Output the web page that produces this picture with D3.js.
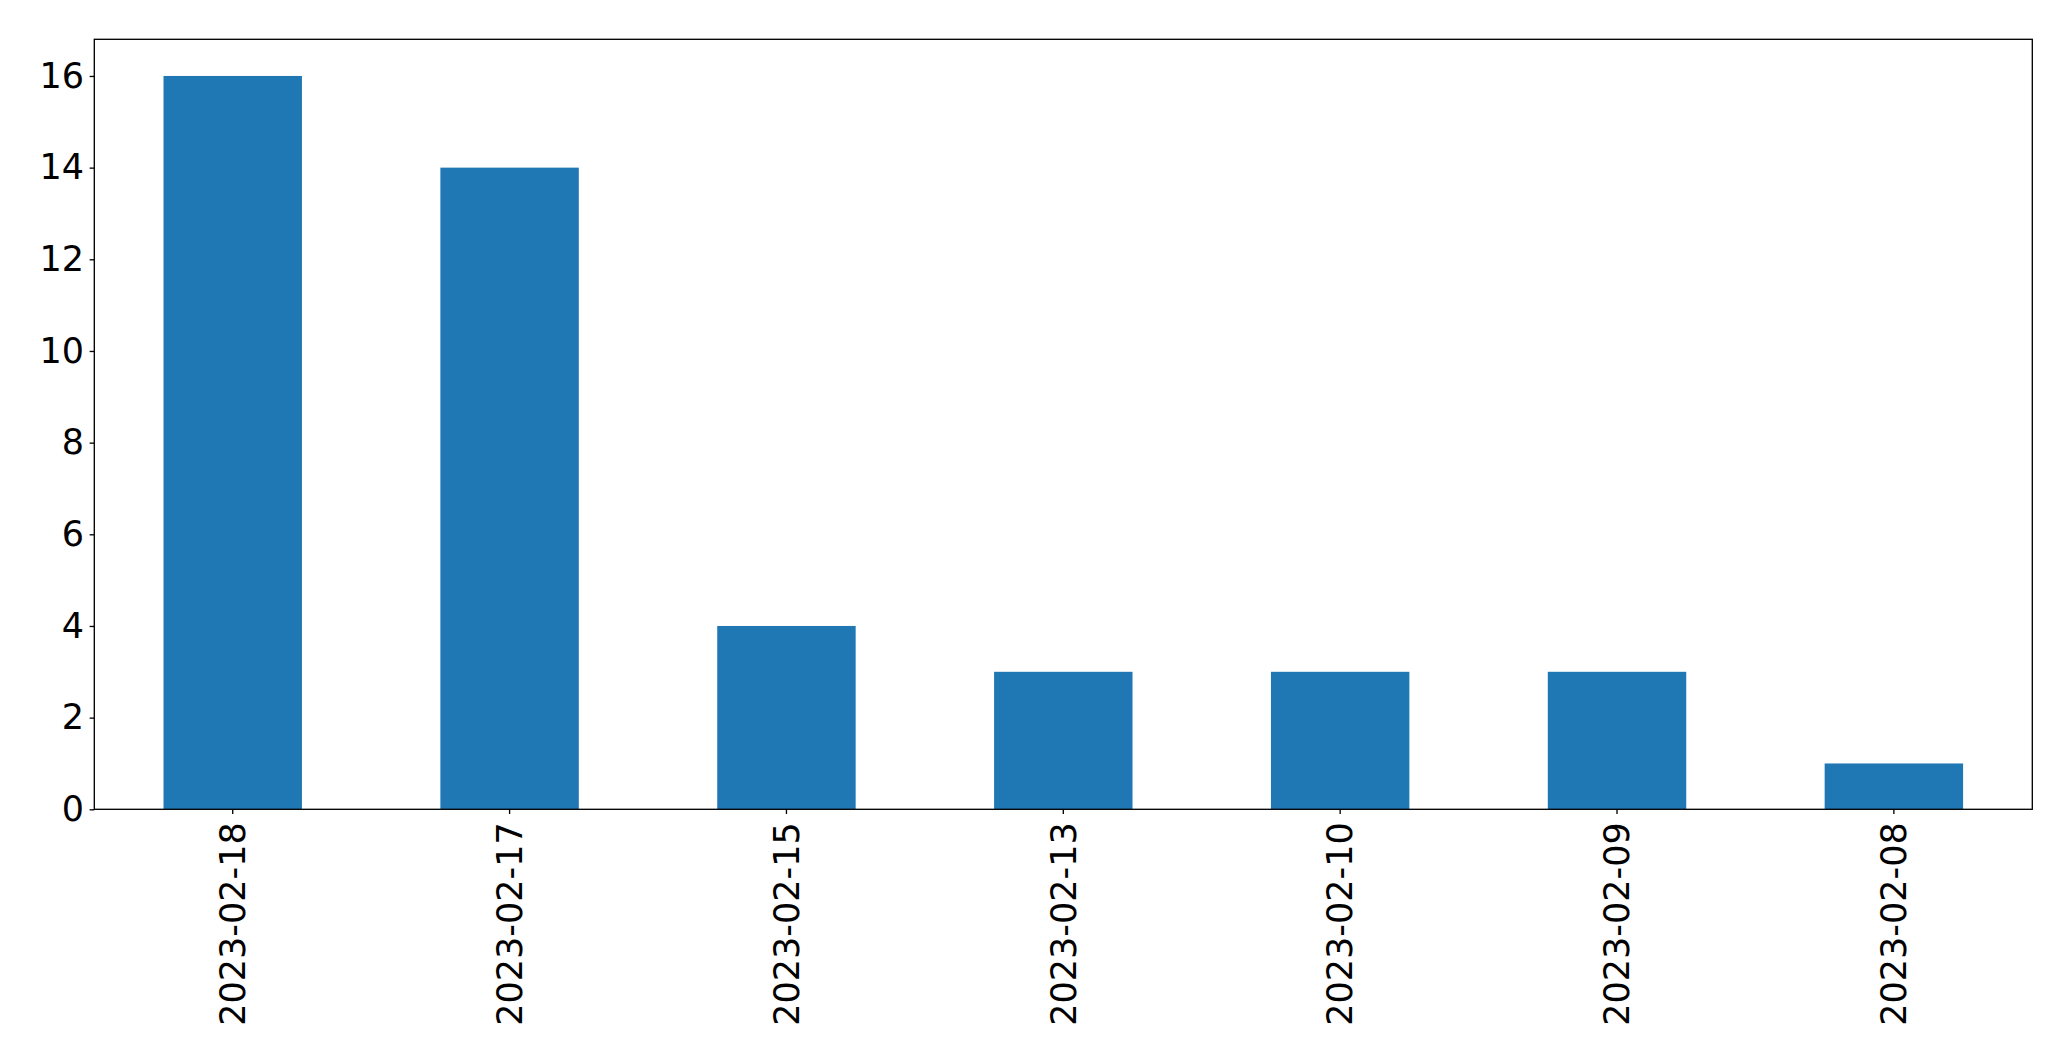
<!DOCTYPE html>
<html><head><meta charset="utf-8">
<script src="https://cdn.jsdelivr.net/npm/d3@7"></script>
<style>html,body{margin:0;padding:0;background:#fff;}svg{display:block;}</style>
</head><body>
<script>
const categories = ["2023-02-18","2023-02-17","2023-02-15","2023-02-13","2023-02-10","2023-02-09","2023-02-08"];
const values = [16,14,4,3,3,3,1];
const yTicks = [0,2,4,6,8,10,12,14,16];

const W = 2071, H = 1061;
const m = {left:94.3, right:W-2032.3, top:39.3, bottom:H-809.3};
const fontSize = 35;
const svg = d3.select("body").append("svg").attr("width",W).attr("height",H)
  .style("font-family","DejaVu Sans");
const iw = W-m.left-m.right, ih = H-m.top-m.bottom;
const g = svg.append("g").attr("transform",`translate(${m.left},${m.top})`);

const x = d3.scaleBand().domain(categories).range([0,iw]).paddingInner(0.5).paddingOuter(0.25);
const y = d3.scaleLinear().domain([0,16.8]).range([ih,0]);

g.selectAll("rect.bar").data(values).join("rect")
  .attr("class","bar")
  .attr("x",(d,i)=>x(categories[i]))
  .attr("width",x.bandwidth())
  .attr("y",d=>y(d))
  .attr("height",d=>ih-y(d))
  .attr("fill","#1f77b4");

const yAxis = g.append("g").call(d3.axisLeft(y).tickValues(yTicks).tickSize(4.67).tickPadding(5.5).tickFormat(d3.format("d")));
yAxis.select(".domain").remove();
yAxis.selectAll("line").attr("stroke","#000").attr("stroke-width",1.33);
yAxis.selectAll("text").attr("font-size",fontSize).attr("fill","#000").attr("font-family","DejaVu Sans");

const xAxis = g.append("g").attr("transform",`translate(0,${ih})`)
  .call(d3.axisBottom(x).tickSize(4.67).tickPadding(0));
xAxis.select(".domain").remove();
xAxis.selectAll("line").attr("stroke","#000").attr("stroke-width",1.33);
xAxis.selectAll("text").attr("font-size",fontSize).attr("fill","#000").attr("font-family","DejaVu Sans")
  .attr("transform","rotate(-90)")
  .attr("text-anchor","end")
  .attr("x",-13)
  .attr("y",0)
  .attr("dy","0.35em");

g.append("rect").attr("x",0).attr("y",0).attr("width",iw).attr("height",ih)
  .attr("fill","none").attr("stroke","#000").attr("stroke-width",1.33);
</script>
</body></html>
